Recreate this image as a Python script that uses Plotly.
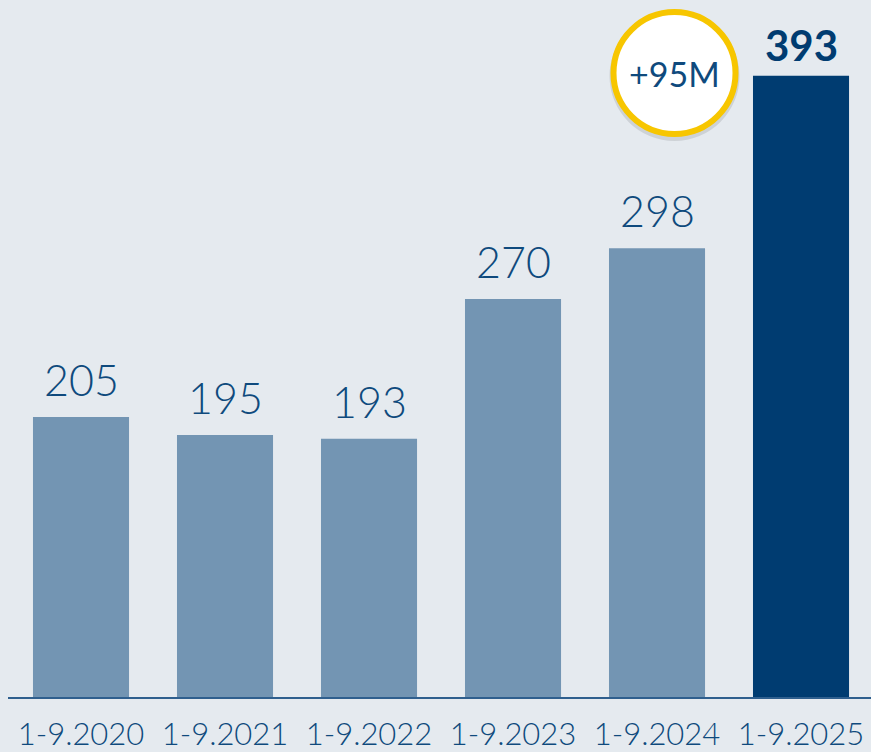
import plotly.graph_objects as go

categories = ["1-9.2020", "1-9.2021", "1-9.2022", "1-9.2023", "1-9.2024", "1-9.2025"]
values = [205, 195, 193, 270, 298, 393]
highlight = [False, False, False, False, False, True]
badge_text = "+95M"

LIGHT = "#7395b3"
DARK = "#003c71"
TEXT = "#0f4a7d"
BG = "#e5eaef"

W, H = 871, 752
ML, MB, MT, MR = 8, 55, 0, 0
PW, PH = W - ML - MR, H - MB - MT

fig = go.Figure()
fig.add_trace(go.Bar(
    x=categories, y=values,
    marker=dict(color=[DARK if h else LIGHT for h in highlight], line=dict(width=0)),
    width=0.667,
    hoverinfo="skip",
))

for c, v, h in zip(categories, values, highlight):
    fig.add_annotation(
        x=c, y=v, xref="x", yref="y", text=(f"<b>{v}</b>" if h else str(v)),
        showarrow=False, yanchor="bottom", yshift=4 if h else 10,
        font=dict(family="Lato", size=43 if not h else 42, color=DARK if h else TEXT,
                  weight=900 if h else 300),
    )

# badge circle (pixel sized, anchored in paper coords)
cx, cy, r = 674.5, 73, 61
xa = (cx - ML) / PW
ya = 1 - (cy - MT) / PH
fig.add_shape(type="circle", xref="paper", yref="paper", xsizemode="pixel", ysizemode="pixel",
              xanchor=xa, yanchor=ya - 3 / PH, x0=-r - 4, x1=r + 4, y0=-r - 4, y1=r + 4,
              fillcolor="rgba(0,0,0,0.10)", line=dict(width=0), layer="above")
fig.add_shape(type="circle", xref="paper", yref="paper", xsizemode="pixel", ysizemode="pixel",
              xanchor=xa, yanchor=ya, x0=-r, x1=r, y0=-r, y1=r,
              fillcolor="white", line=dict(color="#f7c600", width=6), layer="above")
fig.add_annotation(x=xa, y=ya, xref="paper", yref="paper", text=badge_text, showarrow=False,
                   xanchor="center", yanchor="middle",
                   font=dict(family="Lato", size=34, color=TEXT, weight=400))

fig.update_layout(
    width=W, height=H,
    margin=dict(l=ML, r=MR, t=MT, b=MB, pad=0, autoexpand=False),
    paper_bgcolor=BG, plot_bgcolor=BG,
    showlegend=False,
    bargap=0.333,
    xaxis=dict(type="category", range=[-0.507, 5.486], showgrid=False, zeroline=False,
               showline=True, linecolor="#2f5f8e", linewidth=2, ticks="",
               tickfont=dict(family="Lato", size=31, color=TEXT, weight=300),
               ticklabelstandoff=9, automargin=False, fixedrange=True),
    yaxis=dict(range=[50.6, 434.8], visible=False, fixedrange=True, automargin=False),
)

fig.write_html("out.html", config={"displayModeBar": False},
               post_script="document.body.style.margin='0';document.body.style.background='#e5eaef';")
